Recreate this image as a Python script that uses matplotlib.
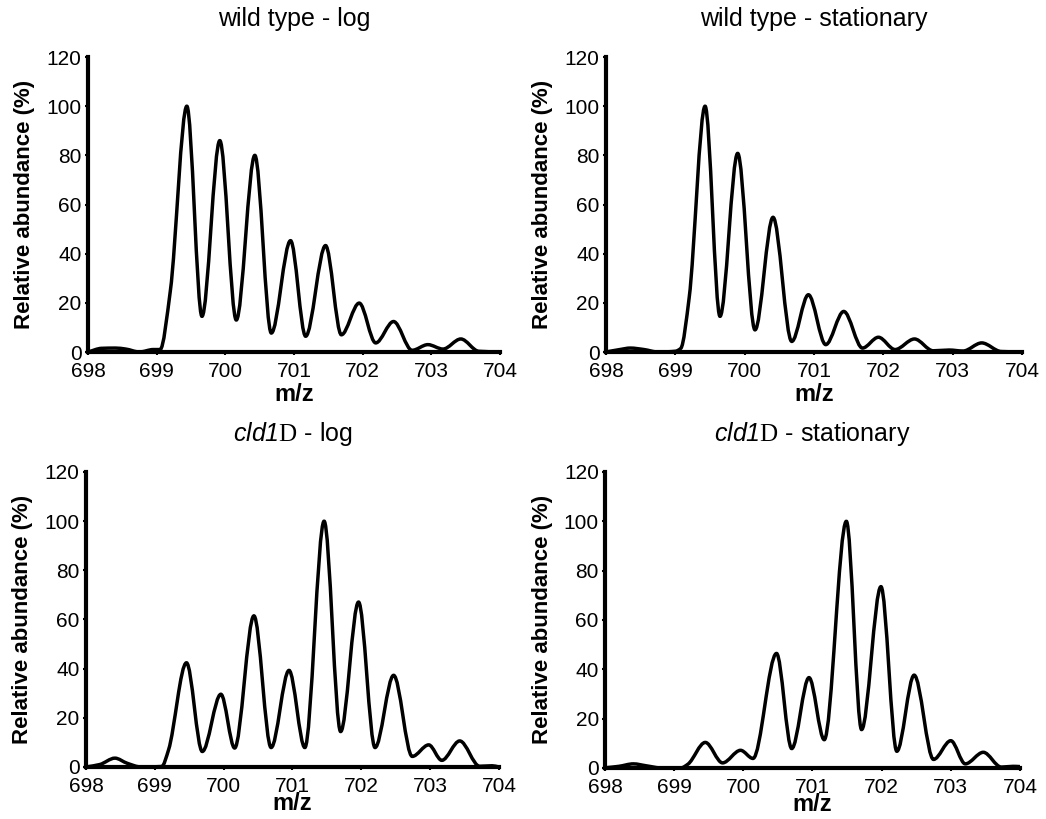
import numpy as np
import matplotlib
matplotlib.use("Agg")
import matplotlib.pyplot as plt
from matplotlib.path import Path
from matplotlib.patches import PathPatch

plt.rcParams['font.family'] = ['Liberation Sans', 'DejaVu Sans']
plt.rcParams['mathtext.fontset'] = 'custom'
plt.rcParams['mathtext.rm'] = 'Liberation Sans:italic'
plt.rcParams['mathtext.it'] = 'Liberation Sans:italic'
plt.rcParams['mathtext.sf'] = 'Liberation Serif'

# ---- data ----
titles = ["wild type - log", "wild type - stationary",
          r"$\mathit{cld1}\mathsf{D}$ - log", r"$\mathit{cld1}\mathsf{D}$ - stationary"]

wt_log_mz = [698.0, 698.2, 698.4, 698.55, 698.75, 698.95, 699.05, 699.2, 699.44, 699.66,
             699.92, 700.16, 700.43, 700.67, 700.95, 701.17, 701.46, 701.69, 701.95, 702.19,
             702.45, 702.72, 702.95, 703.17, 703.43, 703.69, 704.0]
wt_log_ab = [0, 1.5, 1.6, 1.2, 0, 1.0, 1.0, 25, 100, 14.5,
             86, 13, 80, 7.7, 45.3, 6.4, 43.3, 7, 19.9, 3.7,
             12.4, 0.7, 3, 1.2, 5.3, 0.3, 0]

wt_stat_mz = [698.0, 698.2, 698.35, 698.55, 698.75, 699.0, 699.08, 699.2, 699.43, 699.645,
              699.90, 700.15, 700.41, 700.68, 700.92, 701.17, 701.43, 701.70, 701.93, 702.17,
              702.45, 702.72, 702.95, 703.15, 703.42, 703.7, 704.0]
wt_stat_ab = [0, 1.0, 1.6, 1.0, 0, 0.3, 1.5, 22, 100, 14.5,
              80.8, 9, 54.8, 4.3, 23.3, 3, 16.5, 1.6, 6, 1,
              5.3, 0.5, 0.8, 0.4, 3.7, 0.2, 0]

cld_log_mz = [698.0, 698.2, 698.42, 698.6, 698.8, 699.1, 699.2, 699.46, 699.69, 699.96,
              700.16, 700.44, 700.69, 700.95, 701.18, 701.46, 701.70, 701.96, 702.20, 702.47,
              702.74, 702.98, 703.17, 703.43, 703.72, 703.9, 704.0]
cld_log_ab = [0, 1.0, 3.6, 1.5, 0, 0.2, 7, 42.4, 6.3, 29.6,
              7.7, 61.5, 7.9, 39.3, 7.9, 100, 14.4, 67.1, 7.9, 37.3,
              4.3, 9, 2.7, 10.6, 0.3, 0.5, 0]

cld_stat_mz = [698.0, 698.2, 698.41, 698.6, 698.8, 699.1, 699.2, 699.45, 699.70, 699.96,
               700.14, 700.48, 700.70, 700.95, 701.17, 701.49, 701.71, 701.99, 702.22, 702.47,
               702.75, 703.00, 703.21, 703.47, 703.73, 703.9, 704.0]
cld_stat_ab = [0, 0.6, 1.6, 0.8, 0, 0, 1.5, 10.3, 2, 7.1,
               3.8, 46.4, 7.8, 36.6, 11.4, 100, 15.5, 73.5, 6.7, 37.6,
               3.4, 11, 1.6, 6.3, 0.3, 0.6, 0.5]

series = [(wt_log_mz, wt_log_ab), (wt_stat_mz, wt_stat_ab),
          (cld_log_mz, cld_log_ab), (cld_stat_mz, cld_stat_ab)]

x_ticks = [698, 699, 700, 701, 702, 703, 704]
y_ticks = [0, 20, 40, 60, 80, 100, 120]


def smooth_path(xs, ys):
    """Monotone cubic (Hermite) curve through the points, drawn as Bezier segments."""
    x = np.asarray(xs, float)
    y = np.asarray(ys, float)
    h = np.diff(x)
    d = np.diff(y) / h
    m = np.zeros_like(y)
    m[0], m[-1] = d[0], d[-1]
    for i in range(1, len(x) - 1):
        if d[i - 1] * d[i] <= 0:
            m[i] = 0.0
        else:
            w1 = 2 * h[i] + h[i - 1]
            w2 = h[i] + 2 * h[i - 1]
            m[i] = (w1 + w2) / (w1 / d[i - 1] + w2 / d[i])
    verts = [(x[0], y[0])]
    codes = [Path.MOVETO]
    for i in range(len(x) - 1):
        verts += [(x[i] + h[i] / 3, y[i] + m[i] * h[i] / 3),
                  (x[i + 1] - h[i] / 3, y[i + 1] - m[i + 1] * h[i] / 3),
                  (x[i + 1], y[i + 1])]
        codes += [Path.CURVE4] * 3
    return Path(verts, codes)


fig = plt.figure(figsize=(10.46, 8.19), dpi=100)
positions = [
    [0.0841, 0.5702, 0.3939, 0.3602],
    [0.5793, 0.5702, 0.3977, 0.3602],
    [0.0822, 0.0635, 0.3948, 0.3602],
    [0.5784, 0.0625, 0.3967, 0.3612],
]
xlabel_pads = [1, 1, -3, -3]

for pos, title, (mz, ab), lp in zip(positions, titles, series, xlabel_pads):
    ax = fig.add_axes(pos)
    ax.add_patch(PathPatch(smooth_path(mz, ab), fill=False, lw=2.5,
                           edgecolor='black', joinstyle='round', capstyle='round'))
    ax.set_xlim(698, 704)
    ax.set_ylim(0, 120)
    ax.set_xticks(x_ticks)
    ax.set_yticks(y_ticks)
    ax.tick_params(axis='x', labelsize=15, length=2.5, width=1.5, pad=5)
    ax.tick_params(axis='y', labelsize=15, length=2.5, width=1.5, pad=2)
    for s in ['top', 'right']:
        ax.spines[s].set_visible(False)
    for s in ['left', 'bottom']:
        ax.spines[s].set_linewidth(3)
    ax.set_xlabel("m/z", fontsize=17, fontweight='bold', labelpad=lp)
    ax.set_ylabel("Relative abundance (%)", fontsize=16, fontweight='bold', labelpad=8)
    ax.set_title(title, fontsize=18, pad=22)
    ax.margins(0)

fig.savefig("out.png", dpi=100)
